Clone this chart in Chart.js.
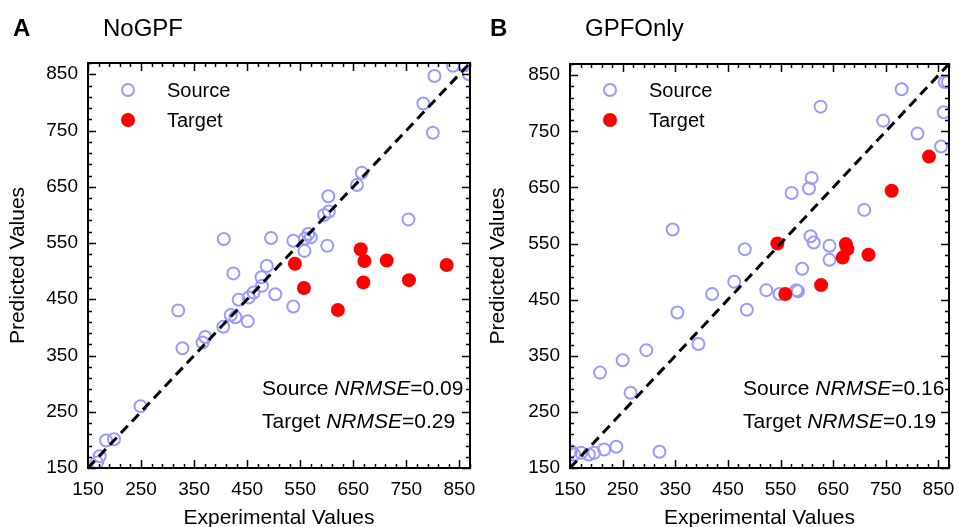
<!DOCTYPE html>
<html>
<head>
<meta charset="utf-8">
<script src="https://cdn.jsdelivr.net/npm/chart.js@4.4.1/dist/chart.umd.min.js"></script>
<style>
    html, body { margin: 0; padding: 0; background: #fff; overflow: hidden; }
    body { width: 959px; height: 527px; position: relative; font-family: 'Liberation Sans', Arial, sans-serif; color: #000; }
    .panel { position: absolute; top: 0; }
    .letter { position: absolute; top: 16px; font-size: 24px; font-weight: bold; line-height: 24px; }
    .title { position: absolute; top: 16px; font-size: 24px; line-height: 24px; }
</style>
</head>
<body>
<canvas id="noGpfChart" class="panel" style="left:0px" width="480" height="545"></canvas>
<canvas id="gpfOnlyChart" class="panel" style="left:480px" width="479" height="545"></canvas>
<div class="letter" style="left:13px">A</div>
<div class="title" style="left:103px">NoGPF</div>
<div class="letter" style="left:490px">B</div>
<div class="title" style="left:585px">GPFOnly</div>
<script>
// valores
const tickLabels = [150, 250, 350, 450, 550, 650, 750, 850];
const seriesNames = ['Source', 'Target'];

const noGpfSourceX = [838, 860, 868, 803, 782, 800, 666, 657, 603, 604, 595, 754, 406, 495, 537, 559, 565, 570, 558, 601,
    487, 424, 477, 478, 503, 462, 453, 434, 537, 320, 419, 428, 451, 405, 371, 366, 328, 249, 199, 184, 172, 167];
const noGpfSourceY = [865, 866, 850, 847, 798, 746, 675, 653, 633, 606, 600, 592, 557, 559, 554, 558, 566, 560, 536, 545,
    509, 496, 489, 474, 459, 462, 453, 449, 437, 430, 422, 418, 411, 401, 383, 373, 363, 260, 201, 199, 171, 160];
const noGpfTargetX = [540, 664, 671, 713, 826, 557, 669, 755, 621];
const noGpfTargetY = [513, 539, 518, 519, 511, 470, 480, 484, 431];
const noGpfStats = ['0.09', '0.29'];

const gpfOnlySourceX = [862, 868, 780, 626, 860, 745, 810, 855, 609, 604, 571, 709, 345, 607, 613, 643, 482, 643, 591,
    462, 523, 548, 580, 583, 420, 486, 354, 394, 295, 250, 207, 265, 238, 215, 196, 186, 171, 158, 152, 320];
const gpfOnlySourceY = [838, 838, 825, 794, 784, 769, 746, 723, 667, 648, 640, 610, 575, 563, 552, 546, 540, 521, 505,
    482, 467, 460, 467, 465, 460, 432, 427, 371, 360, 342, 320, 284, 188, 183, 177, 174, 177, 174, 180, 179];
const gpfOnlyTargetX = [544, 674, 677, 668, 717, 761, 832, 559, 627];
const gpfOnlyTargetY = [550, 549, 540, 525, 530, 644, 705, 460, 476];
const gpfOnlyStats = ['0.16', '0.19'];

const identidad = [150, 870];

const fuente = "'Liberation Sans', Arial, sans-serif";
Chart.defaults.font.family = fuente;
Chart.defaults.color = '#000';

const estiloSource = { pointStyle: 'circle', pointRadius: 6, borderWidth: 2, borderColor: '#9a9aff', backgroundColor: 'rgba(0,0,0,0)' };
const estiloTarget = { pointStyle: 'circle', pointRadius: 7, borderWidth: 0, borderColor: '#ff0000', backgroundColor: '#ff0000' };

function puntos(xs, ys) {
    return xs.map((v, i) => ({ x: v, y: ys[i] }));
}

// marco, ticks hacia dentro, leyenda y texto de NRMSE
const marcoPlugin = {
    id: 'marco',
    afterDraw(chart, args, opts) {
        const { ctx, chartArea: a, scales: { x, y } } = chart;
        ctx.save();
        ctx.strokeStyle = '#000';
        ctx.lineWidth = 1.5;
        ctx.beginPath();
        x.ticks.forEach(t => {
            const px = Math.round(x.getPixelForValue(t.value)) + 0.5;
            const len = tickLabels.includes(t.value) ? 8 : 4;
            ctx.moveTo(px, a.bottom); ctx.lineTo(px, a.bottom - len);
            ctx.moveTo(px, a.top); ctx.lineTo(px, a.top + len);
        });
        y.ticks.forEach(t => {
            const py = Math.round(y.getPixelForValue(t.value)) + 0.5;
            const len = tickLabels.includes(t.value) ? 8 : 4;
            ctx.moveTo(a.left, py); ctx.lineTo(a.left + len, py);
            ctx.moveTo(a.right, py); ctx.lineTo(a.right - len, py);
        });
        ctx.stroke();
        ctx.lineWidth = 2;
        ctx.strokeRect(a.left, a.top, a.right - a.left, a.bottom - a.top);

        // leyenda
        const estilos = [estiloSource, estiloTarget];
        ctx.font = '20px ' + fuente;
        ctx.textBaseline = 'alphabetic';
        ctx.fillStyle = '#000';
        seriesNames.forEach((n, i) => {
            const my = opts.legendY + i * 30;
            const e = estilos[i];
            ctx.beginPath();
            ctx.arc(opts.legendX, my, e.pointRadius, 0, Math.PI * 2);
            if (e.borderWidth) {
                ctx.lineWidth = e.borderWidth;
                ctx.strokeStyle = e.borderColor;
                ctx.stroke();
            } else {
                ctx.fillStyle = e.backgroundColor;
                ctx.fill();
            }
            ctx.fillStyle = '#000';
            ctx.fillText(n, opts.legendTextX, my + 7);
        });

        // NRMSE
        opts.stats.forEach((v, i) => {
            let tx = opts.statX;
            const ty = opts.statY + i * 33;
            ctx.font = '21px ' + fuente;
            ctx.fillText(seriesNames[i] + ' ', tx, ty);
            tx += ctx.measureText(seriesNames[i] + ' ').width;
            ctx.font = 'italic 21px ' + fuente;
            ctx.fillText('NRMSE', tx, ty);
            tx += ctx.measureText('NRMSE').width;
            ctx.font = '21px ' + fuente;
            ctx.fillText('=' + v, tx, ty);
        });
        ctx.restore();
    }
};

function crearGrafico(id, srcX, srcY, tgtX, tgtY, stats, cfg) {
    const ctx = document.getElementById(id).getContext('2d');
    const ejeComun = {
        type: 'linear',
        min: 150,
        max: 870,
        grid: { display: false, drawTicks: false },
        border: { display: false },
        ticks: {
            stepSize: 20,
            autoSkip: false,
            maxRotation: 0,
            font: { size: 19 },
            color: '#000',
            callback: function(v) { return tickLabels.includes(v) ? String(v) : ''; }
        }
    };
    new Chart(ctx, {
        type: 'scatter',
        data: {
            datasets: [{
                type: 'line',
                label: 'y=x',
                data: puntos(identidad, identidad),
                borderColor: '#000',
                borderWidth: 3,
                borderDash: [10, 6],
                pointRadius: 0,
                fill: false,
                clip: 0,
                order: 0
            }, {
                label: seriesNames[1],
                data: puntos(tgtX, tgtY),
                ...estiloTarget,
                clip: 0,
                order: 1
            }, {
                label: seriesNames[0],
                data: puntos(srcX, srcY),
                ...estiloSource,
                clip: 0,
                order: 2
            }]
        },
        options: {
            responsive: false,
            animation: false,
            layout: { padding: { left: 0, right: cfg.padRight, top: cfg.padTop, bottom: 0 } },
            scales: {
                x: {
                    ...ejeComun,
                    position: 'bottom',
                    ticks: { ...ejeComun.ticks, padding: 10 },
                    afterFit: function(s) { s.height = 77; },
                    title: { display: true, text: 'Experimental Values', font: { size: 21 }, padding: { top: 0, bottom: 14 } }
                },
                y: {
                    ...ejeComun,
                    position: 'left',
                    ticks: { ...ejeComun.ticks, padding: 10 },
                    afterFit: function(s) { s.width = cfg.yWidth; },
                    title: { display: true, text: 'Predicted Values', font: { size: 21 }, padding: { top: 6, bottom: 0 } }
                }
            },
            plugins: {
                legend: { display: false },
                tooltip: { enabled: false },
                marco: {
                    legendX: cfg.legendX,
                    legendTextX: cfg.legendTextX,
                    legendY: 90,
                    stats: stats,
                    statX: cfg.statX,
                    statY: 395
                }
            }
        },
        plugins: [marcoPlugin]
    });
}

crearGrafico('noGpfChart', noGpfSourceX, noGpfSourceY, noGpfTargetX, noGpfTargetY, noGpfStats,
    { yWidth: 88, padRight: 7, padTop: 63, legendX: 128, legendTextX: 167, statX: 262 });
crearGrafico('gpfOnlyChart', gpfOnlySourceX, gpfOnlySourceY, gpfOnlyTargetX, gpfOnlyTargetY, gpfOnlyStats,
    { yWidth: 90, padRight: 8, padTop: 64, legendX: 130, legendTextX: 169, statX: 263 });
</script>
</body>
</html>
